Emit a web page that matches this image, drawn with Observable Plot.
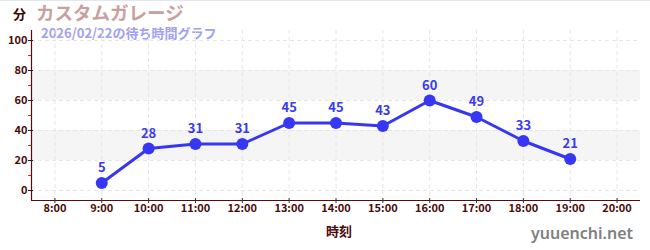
<!DOCTYPE html>
<html>
<head>
<meta charset="utf-8">
<script src="https://cdn.jsdelivr.net/npm/d3@7"></script>
<script src="https://cdn.jsdelivr.net/npm/@observablehq/plot@0.6"></script>
<style>
  html, body { margin: 0; padding: 0; background: #fff; }
  #wrap { position: relative; width: 650px; height: 250px; overflow: hidden; border-top: 1px solid #e4e4f4; box-sizing: border-box; font-family: "Noto Sans CJK JP", "Noto Sans", sans-serif; }
  #wrap svg { position: absolute; left: 0; top: -1px; }
  .t { position: absolute; white-space: nowrap; font-weight: bold; line-height: 1; }
</style>
</head>
<body>
<div id="wrap">
  <div class="t" id="unit" style="left:13px; top:6px; font-size:13px; color:#3a0505;"></div>
  <div class="t" id="title" style="left:36px; top:2px; font-size:18.5px; color:#c9a0a0;"></div>
  <div class="t" id="subtitle" style="left:41px; top:25px; font-size:13px; color:#a0a0f4;"></div>
  <div class="t" id="xlabel" style="left:326px; top:223px; font-size:13px; color:#4a0a0a;"></div>
  <div class="t" id="site" style="left:531px; top:224px; font-size:16px; color:#808080; font-family:'Noto Sans', sans-serif; font-weight:600;"></div>
</div>
<script>
const titleText = "カスタムガレージ";
const subtitleText = "2026/02/22の待ち時間グラフ";
const unitText = "分";
const xLabelText = "時刻";
const siteText = "yuuenchi.net";

const hours = [9, 10, 11, 12, 13, 14, 15, 16, 17, 18, 19];
const waits = [5, 28, 31, 31, 45, 45, 43, 60, 49, 33, 21];
const xTicks = [8, 9, 10, 11, 12, 13, 14, 15, 16, 17, 18, 19, 20];
const xTickLabels = ["8:00","9:00","10:00","11:00","12:00","13:00","14:00","15:00","16:00","17:00","18:00","19:00","20:00"];
const yTicks = [0, 20, 40, 60, 80, 100];
const yMinorTicks = [10, 30, 50, 70, 90];
const bandLow = [20, 60];
const bandHigh = [40, 80];

document.getElementById("unit").textContent = unitText;
document.getElementById("title").textContent = titleText;
document.getElementById("subtitle").textContent = subtitleText;
document.getElementById("xlabel").textContent = xLabelText;
document.getElementById("site").textContent = siteText;

const data = hours.map((h, i) => ({h, w: waits[i]}));
const bands = bandLow.map((lo, i) => ({lo, hi: bandHigh[i]}));
const xDomain = [7.5, 20.5];
const yDomain = [-6.67, 106.67];
const axisColor = "#5a0a0a";

const chart = Plot.plot({
  width: 650,
  height: 250,
  marginLeft: 31,
  marginRight: 10,
  marginTop: 30,
  marginBottom: 50,
  style: {fontFamily: "'Noto Sans CJK JP', 'Noto Sans', sans-serif", fontSize: "11px", fontWeight: "bold", background: "transparent"},
  x: {domain: xDomain, axis: null},
  y: {domain: yDomain, axis: null},
  marks: [
    Plot.rect(bands, {y1: "lo", y2: "hi", fill: "#f5f5f5"}),
    Plot.gridX(xTicks, {stroke: "#e6e6e6", strokeOpacity: 1, strokeDasharray: "4,3"}),
    Plot.gridY(yTicks, {stroke: "#e6e6e6", strokeOpacity: 1, strokeDasharray: "4,3"}),
    Plot.ruleX([xDomain[0]], {stroke: axisColor, strokeWidth: 1.2}),
    Plot.ruleY([yDomain[0]], {stroke: axisColor, strokeWidth: 1.2}),
    Plot.axisY(yMinorTicks, {tickSize: 3, stroke: "#e02020", tickFormat: () => "", anchor: "left"}),
    Plot.axisY(yTicks, {tickSize: 5, dx: 2, tickPadding: 1, stroke: "#222", color: "#4a0a0a", anchor: "left", label: null}),
    Plot.axisX(xTicks, {tickSize: 5, dy: -2, tickPadding: 1, stroke: "#333", color: "#4a0a0a", anchor: "bottom", label: null,
      tickFormat: (d) => xTickLabels[xTicks.indexOf(d)]}),
    Plot.line(data, {x: "h", y: "w", stroke: "#3636f4", strokeWidth: 3}),
    Plot.dot(data, {x: "h", y: "w", r: 6, fill: "#3636f4", stroke: "none"}),
    Plot.text(data, {x: "h", y: "w", text: (d) => String(d.w), dy: -15, fill: "#3a3ae8", fontSize: 13, fontWeight: "bold"})
  ]
});
document.getElementById("wrap").appendChild(chart);
</script>
</body>
</html>
